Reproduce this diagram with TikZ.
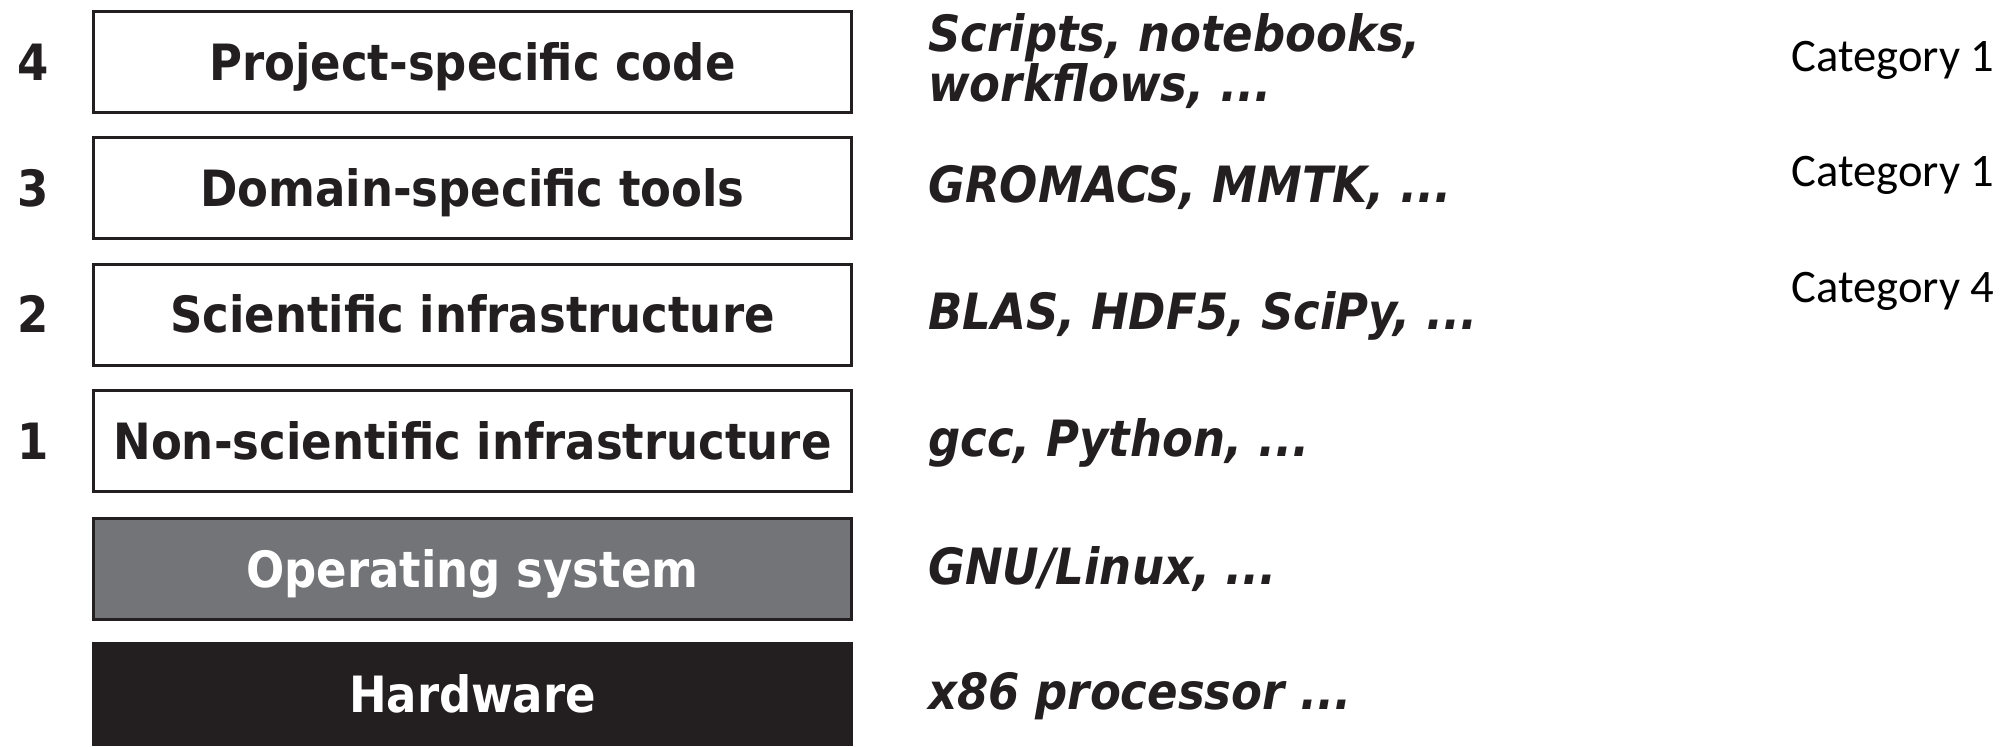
\documentclass[tikz,border=0pt]{standalone}
\usepackage{fontspec}
\newfontfamily\dvs{DejaVu Sans Condensed}
\newfontfamily\cat{Carlito}
\definecolor{ink}{HTML}{231F20}
\definecolor{osgray}{HTML}{737478}
\begin{document}
\begin{tikzpicture}[x=0.5pt,y=-0.5pt,
  layer/.style={draw=ink, line width=1.5pt, minimum width=379pt, minimum height=50.5pt,
    inner sep=0pt, text height=18.2pt, text depth=0pt,
    font=\dvs\bfseries\fontsize{25}{29}\selectfont, text=ink},
  lnum/.style={inner sep=0pt, text height=18.2pt, text depth=0pt,
    font=\dvs\bfseries\fontsize{25}{29}\selectfont, text=ink},
  example/.style={anchor=west, align=left, inner sep=0pt, text height=18.2pt, text depth=0pt,
    font=\dvs\bfseries\itshape\fontsize{25}{22}\selectfont, text=ink},
  example2/.style={anchor=west, align=left, inner sep=0pt,
    font=\dvs\bfseries\itshape\fontsize{25}{22}\selectfont, text=ink},
  catlabel/.style={anchor=west, inner sep=0pt, font=\cat\fontsize{23.3}{28}\selectfont, text=black}]
\useasboundingbox (0,0) rectangle (2011,746);
\node[layer] (l4) at (472.5,62) {Project-specific code};
\node[layer] (l3) at (472.5,188) {Domain-specific tools};
\node[layer] (l2) at (472.5,314.5) {Scientific infrastructure};
\node[layer] (l1) at (472.5,441) {Non-scientific infrastructure};
\node[layer, fill=osgray, text=white] (os) at (472.5,569) {Operating system};
\node[layer, fill=ink, text=white] (hw) at (472.5,694) {Hardware};
\node[lnum] (n4) at (33.5,62) {4};
\node[lnum] (n3) at (33.5,188) {3};
\node[lnum] (n2) at (33.5,314.5) {2};
\node[lnum] (n1) at (33.5,441) {1};
\node[example2] (e4) at (928,61) {Scripts, notebooks,\\workflows, ...};
\node[example] (e3) at (928,184) {GROMACS, MMTK, ...};
\node[example] (e2) at (928,311) {BLAS, HDF5, SciPy, ...};
\node[example] (e1) at (928,438) {gcc, Python, ...};
\node[example] (eos) at (928,566) {GNU/Linux, ...};
\node[example] (ehw) at (928,691) {x86 processor ...};
\node[catlabel] (c4) at (1791,60) {Category 1};
\node[catlabel] (c3) at (1791,175) {Category 1};
\node[catlabel] (c2) at (1791,291) {Category 4};
\end{tikzpicture}
\end{document}
